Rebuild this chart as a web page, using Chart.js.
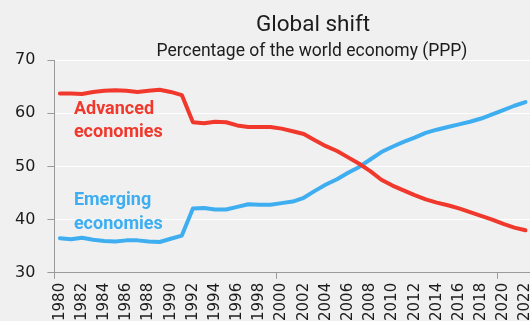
<!DOCTYPE html>
<html>
<head>
<meta charset="utf-8">
<script src="https://cdn.jsdelivr.net/npm/chart.js@4"></script>
<style>
  html, body { margin: 0; padding: 0; background: #f0f0f0; overflow: hidden; width: 530px; height: 321px; }
  #wrap { position: absolute; left: 0; top: 0; }
</style>
</head>
<body>
<div id="wrap"><canvas id="c" width="531" height="327"></canvas></div>
<script>
// Share of world GDP at purchasing power parity, %
const years = ['1980','1981','1982','1983','1984','1985','1986','1987','1988','1989',
               '1990','1991','1992','1993','1994','1995','1996','1997','1998','1999',
               '2000','2001','2002','2003','2004','2005','2006','2007','2008','2009',
               '2010','2011','2012','2013','2014','2015','2016','2017','2018','2019',
               '2020','2021','2022'];
const advanced = [63.7, 63.7, 63.6, 64.0, 64.2, 64.3, 64.2, 64.0, 64.2, 64.4,
                  64.0, 63.4, 58.3, 58.1, 58.4, 58.3, 57.7, 57.4, 57.4, 57.4,
                  57.1, 56.6, 56.1, 54.9, 53.8, 52.9, 51.7, 50.5, 49.1, 47.5,
                  46.4, 45.5, 44.6, 43.8, 43.2, 42.7, 42.1, 41.4, 40.7, 40.0,
                  39.2, 38.5, 38.0];
const emerging = [36.5, 36.3, 36.6, 36.2, 36.0, 35.9, 36.1, 36.1, 35.9, 35.8,
                  36.4, 37.0, 42.1, 42.2, 41.9, 41.9, 42.4, 42.9, 42.8, 42.8,
                  43.1, 43.4, 44.1, 45.4, 46.6, 47.6, 48.8, 49.9, 51.3, 52.7,
                  53.7, 54.6, 55.4, 56.3, 56.9, 57.4, 57.9, 58.4, 59.0, 59.8,
                  60.6, 61.4, 62.1];
const yTicks = [30, 40, 50, 60, 70];
const markedYears = ['1980', '2000', '2020'];

const RED = '#f0382c';
const BLUE = '#3eaef0';
const AXIS = '#9a9a9a';
const INK = '#1c1c1c';

// Headline, subheading and the in-chart series labels
const textPlugin = {
  id: 'texts',
  afterDraw(chart) {
    const { ctx, scales } = chart;
    const xs = scales.x, ys = scales.y;
    ctx.save();
    ctx.fillStyle = INK;
    ctx.textAlign = 'center';
    ctx.textBaseline = 'alphabetic';
    ctx.font = '22.5px Roboto';
    ctx.fillText('Global shift', 313, 31);
    ctx.font = '17.5px Roboto';
    ctx.fillText('Percentage of the world economy (PPP)', 312, 56);

    ctx.textAlign = 'left';
    ctx.font = 'bold 18px Roboto';
    const lx = xs.getPixelForValue(0) + 14;
    ctx.fillStyle = RED;
    const a = ys.getPixelForValue(60) + 1;
    ctx.fillText('Advanced', lx, a);
    ctx.fillText('economies', lx, a + 23);
    ctx.fillStyle = BLUE;
    const e = ys.getPixelForValue(40) - 14.5;
    ctx.fillText('Emerging', lx, e);
    ctx.fillText('economies', lx, e + 24);
    ctx.restore();
  }
};

new Chart(document.getElementById('c'), {
  type: 'line',
  data: {
    labels: years,
    datasets: [
      { label: 'Advanced economies', data: advanced, borderColor: RED },
      { label: 'Emerging economies', data: emerging, borderColor: BLUE }
    ]
  },
  options: {
    responsive: false,
    animation: false,
    devicePixelRatio: 1,
    layout: { padding: { top: 60, left: 3, right: 0, bottom: 2 } },
    elements: {
      line: { borderWidth: 4, tension: 0, borderCapStyle: 'round', borderJoinStyle: 'round', fill: false },
      point: { radius: 0, hoverRadius: 0 }
    },
    plugins: {
      legend: { display: false },
      tooltip: { enabled: false },
      title: { display: false }
    },
    scales: {
      x: {
        type: 'category',
        offset: true,
        afterFit: (s) => { s.paddingLeft = 0; s.paddingRight = 0; },
        grid: {
          offset: true,
          drawOnChartArea: false,
          drawTicks: true,
          tickLength: 6,
          tickColor: (c) => (c.tick && markedYears.includes(years[c.index])) ? AXIS : 'rgba(0,0,0,0)'
        },
        border: { display: true, color: AXIS, width: 1 },
        ticks: {
          autoSkip: false,
          minRotation: 90,
          maxRotation: 90,
          padding: 4,
          color: INK,
          font: { family: 'DejaVu Sans', size: 15 },
          callback: (v, i) => (Number(years[i]) % 2 === 0 ? years[i] : '')
        }
      },
      y: {
        min: 30,
        max: 70,
        afterBuildTicks: (s) => { s.ticks = yTicks.map(v => ({ value: v })); },
        grid: {
          color: (c) => (c.tick && c.tick.value === 30) ? 'rgba(0,0,0,0)' : '#ffffff',
          borderDash: [3, 2],
          lineWidth: 1,
          tickColor: AXIS,
          tickBorderDash: [],
          tickLength: 7
        },
        border: { display: true, color: AXIS, width: 1 },
        ticks: {
          padding: 12,
          color: INK,
          font: { family: 'DejaVu Sans', size: 16 }
        }
      }
    }
  },
  plugins: [textPlugin]
});
</script>
</body>
</html>
